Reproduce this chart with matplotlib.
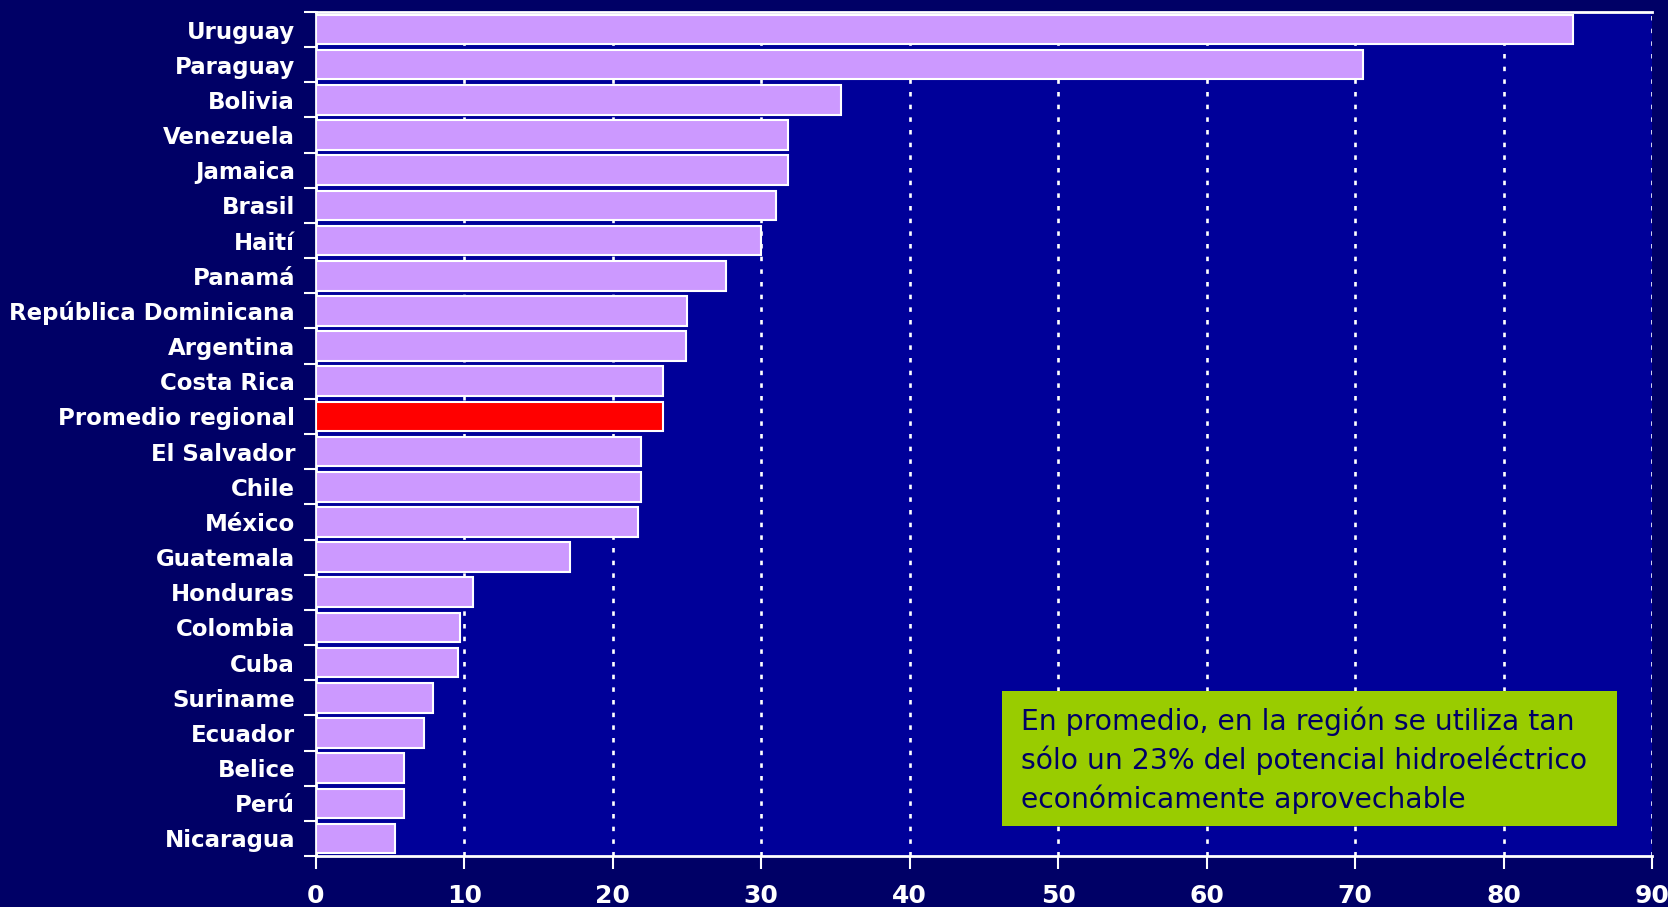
import matplotlib.pyplot as plt
from matplotlib.patches import Rectangle
from matplotlib.ticker import FixedLocator

countries = ["Uruguay", "Paraguay", "Bolivia", "Venezuela", "Jamaica", "Brasil",
             "Haití", "Panamá", "República Dominicana", "Argentina", "Costa Rica",
             "Promedio regional", "El Salvador", "Chile", "México", "Guatemala",
             "Honduras", "Colombia", "Cuba", "Suriname", "Ecuador", "Belice",
             "Perú", "Nicaragua"]
values = [84.7, 70.5, 35.4, 31.8, 31.8, 31.0, 30.0, 27.6, 25.0, 24.9, 23.4,
          23.4, 21.9, 21.9, 21.7, 17.1, 10.6, 9.7, 9.6, 7.9, 7.3, 5.9, 5.9, 5.3]
x_ticks = [0, 10, 20, 30, 40, 50, 60, 70, 80, 90]
note = ("En promedio, en la región se utiliza tan\n"
        "sólo un 23% del potencial hidroeléctrico\n"
        "económicamente aprovechable")

colors = ["#FF0000" if c == "Promedio regional" else "#CC99FF" for c in countries]

fig = plt.figure(figsize=(16.68, 9.07), dpi=100, facecolor="#000066")
ax = fig.add_axes([0.1894, 0.0562, 0.8010, 0.9306], facecolor="#000099")

pos = list(range(len(countries)))
ax.barh(pos, values, height=0.84, color=colors, edgecolor="white", linewidth=1.5, zorder=3)
ax.set_ylim(len(countries) - 0.5, -0.5)
ax.set_xlim(0, 90)

# category labels without ticks, ticks on the slot boundaries
ax.set_yticks(pos)
ax.set_yticklabels(countries, color="white", fontsize=16.5, fontweight="bold")
ax.tick_params(axis="y", which="major", length=0, pad=15)
ax.yaxis.set_minor_locator(FixedLocator([p - 0.5 for p in range(len(countries) + 1)]))
ax.tick_params(axis="y", which="minor", length=9, width=1.5, color="white", direction="out")

ax.set_xticks(x_ticks)
ax.set_xticklabels([str(t) for t in x_ticks], color="white", fontsize=18, fontweight="bold")
ax.tick_params(axis="x", length=9, width=1.5, color="white", direction="out", pad=11)

ax.grid(axis="x", color="white", linestyle=(0, (1.7, 3.1)), linewidth=1.9)
ax.set_axisbelow(True)

for side in ["left", "bottom", "top"]:
    ax.spines[side].set_color("white")
    ax.spines[side].set_linewidth(2)
ax.spines["right"].set_visible(False)

# green note box
ax.add_patch(Rectangle((0.5135, 0.0355), 0.4603, 0.16, transform=ax.transAxes,
                       facecolor="#99CC00", edgecolor="none", zorder=5))
ax.text(0.5277, 0.113, note, transform=ax.transAxes, ha="left", va="center",
        fontsize=20.3, color="#000066", linespacing=1.4, zorder=6)

fig.savefig("out.png", dpi=100, facecolor=fig.get_facecolor())
